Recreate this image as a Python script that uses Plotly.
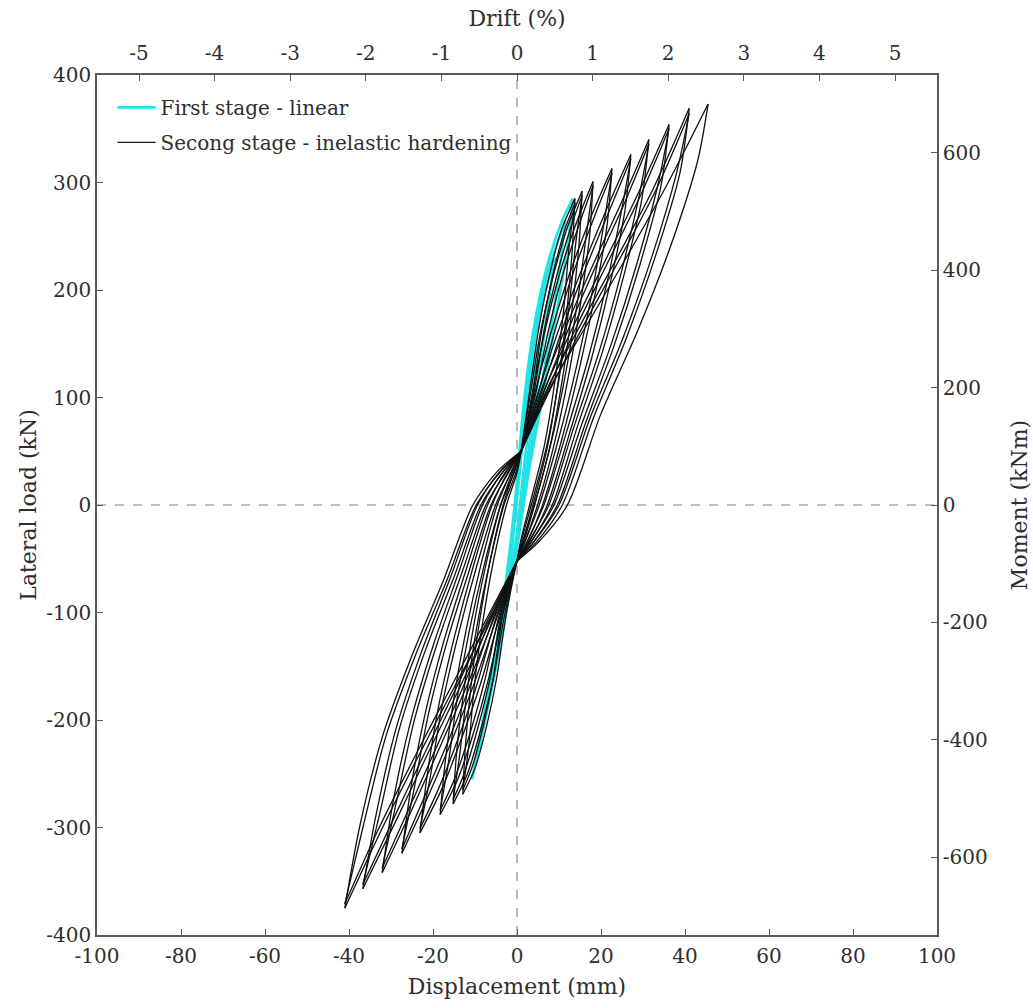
import plotly.graph_objects as go

# ---------------- data ----------------
# pinch points through which all inelastic loops pass (mm, kN)
upper_pinch = [1.0, 50]
lower_pinch = [0.0, -52]

# ---- second stage, first cycle at each amplitude ----
pos_peak_d = [13.8, 15.5, 18.1, 22.6, 27.1, 31.4, 36.2, 41.0, 45.5]
pos_peak_f = [285, 292, 301, 313, 326, 340, 354, 369, 373]
neg_peak_d = [-12.9, -15.2, -18.3, -23.1, -27.4, -32.1, -36.7, -41.0]
neg_peak_f = [-269, -278, -288, -305, -324, -342, -357, -375]

# positive half: branch from upper pinch up to the peak
pos_rise_d = [[2.8, 5.0, 7.5, 10.5], [3.1, 5.6, 8.5, 11.9], [3.5, 6.6, 10.0, 14.0],
              [4.2, 8.3, 12.6, 17.6], [5.0, 10.0, 15.3, 21.2], [5.7, 11.7, 17.8, 24.7],
              [6.5, 13.5, 20.6, 28.5], [7.3, 15.3, 23.4, 32.4], [8.0, 17.0, 26.0, 36.0]]
pos_rise_f = [[100, 160, 210, 255], [101, 161, 211, 257], [101, 161, 213, 261],
              [103, 163, 216, 268], [104, 164, 218, 274], [106, 166, 221, 280],
              [107, 167, 224, 287], [109, 169, 227, 294], [110, 170, 230, 300]]
# positive half: branch from the peak down to lower pinch
pos_fall_d = [[13.2, 12.0, 10.0, 7.3, 3.8, 1.5], [14.8, 13.3, 11.0, 8.0, 4.2, 1.7],
              [17.3, 15.3, 12.5, 9.0, 4.9, 2.0], [21.5, 18.8, 15.1, 10.8, 6.1, 2.5],
              [25.7, 22.3, 17.8, 12.6, 7.2, 3.0], [29.7, 25.6, 20.3, 14.3, 8.4, 3.4],
              [34.3, 29.3, 23.1, 16.3, 9.6, 4.0], [38.8, 33.0, 25.9, 18.2, 10.8, 4.5],
              [43.0, 36.5, 28.5, 20.0, 12.0, 5.0]]
pos_fall_f = [[240, 185, 120, 55, 0, -33], [244, 188, 122, 57, 0, -33],
              [251, 192, 125, 59, 0, -33], [262, 200, 131, 63, 0, -34],
              [274, 208, 137, 68, 0, -34], [284, 216, 142, 72, 0, -34],
              [297, 224, 148, 76, 0, -34], [309, 232, 154, 81, 0, -35],
              [320, 240, 160, 85, 0, -35]]
# negative half: branch from lower pinch down to the peak
neg_drop_d = [[-2.5, -4.8, -7.2, -10.0], [-2.9, -5.6, -8.5, -11.8], [-3.4, -6.8, -10.2, -14.2],
              [-4.1, -8.5, -12.9, -18.0], [-4.8, -10.1, -15.4, -21.4], [-5.6, -11.8, -18.0, -25.0],
              [-6.3, -13.4, -20.6, -28.6], [-7.0, -15.0, -23.0, -32.0]]
neg_drop_f = [[-100, -160, -205, -245], [-101, -161, -207, -250], [-102, -162, -210, -256],
              [-104, -164, -214, -265], [-105, -165, -218, -273], [-107, -167, -222, -283],
              [-108, -168, -226, -292], [-110, -170, -230, -300]]
# negative half: branch from the peak back up to upper pinch
neg_rise_d = [[-12.3, -11.0, -9.0, -6.3, -3.3, -0.8], [-14.4, -12.7, -10.3, -7.2, -3.9, -1.1],
              [-17.1, -15.0, -12.1, -8.5, -4.7, -1.5], [-21.4, -18.6, -14.8, -10.4, -5.9, -2.1],
              [-25.3, -21.8, -17.3, -12.1, -7.0, -2.7], [-29.5, -25.3, -19.9, -14.0, -8.2, -3.3],
              [-33.6, -28.8, -22.6, -15.8, -9.4, -3.9], [-37.5, -32.0, -25.0, -17.5, -10.5, -4.5]]
neg_rise_f = [[-225, -170, -110, -50, 0, 30], [-231, -174, -112, -52, 0, 30],
              [-239, -179, -116, -54, 0, 30], [-252, -186, -121, -57, 0, 31],
              [-264, -193, -125, -60, 0, 31], [-276, -201, -130, -64, 0, 31],
              [-289, -208, -135, -67, 0, 32], [-300, -215, -140, -70, 0, 32]]

# ---- second stage, repeated cycle at each amplitude ----
rep_pos_peak_d = [13.8, 15.5, 18.1, 22.6, 27.1, 31.4, 36.2, 41.0]
rep_pos_peak_f = [281, 288, 297, 309, 322, 336, 350, 364]
rep_neg_peak_d = [-12.9, -15.2, -18.3, -23.1, -27.4, -32.1, -36.7, -41.0]
rep_neg_peak_f = [-265, -274, -284, -301, -320, -338, -353, -371]
rep_pos_rise_d = [[3.6, 5.8, 8.3, 11.3], [3.9, 6.4, 9.3, 12.7], [4.3, 7.4, 10.8, 14.8],
                  [5.0, 9.1, 13.4, 18.4], [5.8, 10.8, 16.1, 22.0], [6.5, 12.5, 18.6, 25.5],
                  [7.3, 14.3, 21.4, 29.3], [8.1, 16.1, 24.2, 33.2]]
rep_pos_fall_d = [[12.4, 11.2, 9.2, 6.5, 3.0, 0.9], [14.0, 12.5, 10.2, 7.2, 3.4, 1.1],
                  [16.5, 14.5, 11.7, 8.2, 4.1, 1.4], [20.7, 18.0, 14.3, 10.0, 5.3, 1.9],
                  [24.9, 21.5, 17.0, 11.8, 6.4, 2.4], [28.9, 24.8, 19.5, 13.5, 7.6, 2.8],
                  [33.5, 28.5, 22.3, 15.5, 8.8, 3.4], [38.0, 32.2, 25.1, 17.4, 10.0, 3.9]]
rep_neg_drop_d = [[-3.3, -5.6, -8.0, -10.8], [-3.7, -6.4, -9.3, -12.6], [-4.2, -7.6, -11.0, -15.0],
                  [-4.9, -9.3, -13.7, -18.8], [-5.6, -10.9, -16.2, -22.2], [-6.4, -12.6, -18.8, -25.8],
                  [-7.1, -14.2, -21.4, -29.4], [-7.8, -15.8, -23.8, -32.8]]
rep_neg_rise_d = [[-11.5, -10.2, -8.2, -5.5, -2.5, 0.0], [-13.6, -11.9, -9.5, -6.4, -3.1, -0.3],
                  [-16.3, -14.2, -11.3, -7.7, -3.9, -0.7], [-20.6, -17.8, -14.0, -9.6, -5.1, -1.3],
                  [-24.5, -21.0, -16.5, -11.3, -6.2, -1.9], [-28.7, -24.5, -19.1, -13.2, -7.4, -2.5],
                  [-32.8, -28.0, -21.8, -15.0, -8.6, -3.1], [-36.7, -31.2, -24.2, -16.7, -9.7, -3.7]]

# ---- first stage (linear) cycles: branch towards positive peak and back ----
lin_up_d = [[-4.0, -1.8, 0.0, 2.2, 5.0],
            [-7.5, -5.0, -2.3, 0.0, 2.5, 5.5, 9.0],
            [-9.5, -7.2, -4.3, -1.5, 0.5, 3.0, 6.5, 11.5],
            [-10.7, -8.8, -5.8, -2.8, -0.3, 1.5, 3.8, 7.0, 10.8, 13.3]]
lin_up_f = [[-120, -60, 5, 90, 150],
            [-195, -140, -70, 10, 105, 180, 230],
            [-235, -185, -120, -45, 40, 130, 205, 265],
            [-255, -215, -150, -75, 10, 90, 160, 220, 265, 285]]
lin_down_d = [[5.0, 3.5, 1.5, 0.0, -4.0],
              [9.0, 7.0, 4.5, 2.0, 0.0, -3.0, -7.5],
              [11.5, 10.0, 7.3, 4.5, 1.8, -0.5, -4.0, -9.5],
              [13.3, 12.0, 9.5, 6.5, 3.0, 0.0, -3.0, -6.5, -10.7]]
lin_down_f = [[150, 95, 30, -25, -120],
              [230, 175, 100, 30, -35, -100, -195],
              [265, 215, 145, 80, 15, -50, -125, -235],
              [285, 240, 180, 110, 35, -40, -110, -180, -255]]

# ---- axes ----
disp_ticks = [-100, -80, -60, -40, -20, 0, 20, 40, 60, 80, 100]
disp_labels = ["-100", "-80", "-60", "-40", "-20", "0", "20", "40", "60", "80", "100"]
load_ticks = [-400, -300, -200, -100, 0, 100, 200, 300, 400]
load_labels = ["-400", "-300", "-200", "-100", "0", "100", "200", "300", "400"]
drift_ticks = [-5, -4, -3, -2, -1, 0, 1, 2, 3, 4, 5]
drift_labels = ["-5", "-4", "-3", "-2", "-1", "0", "1", "2", "3", "4", "5"]
moment_ticks = [-600, -400, -200, 0, 200, 400, 600]
moment_labels = ["-600", "-400", "-200", "0", "200", "400", "600"]
lever_arm = 1.83        # m  (moment = load * lever arm)
drift_height = 18.0     # mm of displacement per 1 % drift

# ---------------- build traces ----------------
bx, by = [], []


def add_cycle(pk_d, pk_f, rise_d, rise_f, fall_d, fall_f,
              npk_d=None, npk_f=None, drop_d=None, drop_f=None, nrise_d=None, nrise_f=None):
    global bx, by
    bx += [upper_pinch[0]] + rise_d + [pk_d, None]
    by += [upper_pinch[1]] + rise_f + [pk_f, None]
    bx += [pk_d] + fall_d + [lower_pinch[0], None]
    by += [pk_f] + fall_f + [lower_pinch[1], None]
    if npk_d is not None:
        bx += [lower_pinch[0]] + drop_d + [npk_d, None]
        by += [lower_pinch[1]] + drop_f + [npk_f, None]
        bx += [npk_d] + nrise_d + [upper_pinch[0], None]
        by += [npk_f] + nrise_f + [upper_pinch[1], None]


for i in range(len(pos_peak_d)):
    if i < len(neg_peak_d):
        add_cycle(pos_peak_d[i], pos_peak_f[i], pos_rise_d[i], pos_rise_f[i],
                  pos_fall_d[i], pos_fall_f[i],
                  neg_peak_d[i], neg_peak_f[i], neg_drop_d[i], neg_drop_f[i],
                  neg_rise_d[i], neg_rise_f[i])
        add_cycle(rep_pos_peak_d[i], rep_pos_peak_f[i], rep_pos_rise_d[i], pos_rise_f[i],
                  rep_pos_fall_d[i], pos_fall_f[i],
                  rep_neg_peak_d[i], rep_neg_peak_f[i], rep_neg_drop_d[i], neg_drop_f[i],
                  rep_neg_rise_d[i], neg_rise_f[i])
    else:
        add_cycle(pos_peak_d[i], pos_peak_f[i], pos_rise_d[i], pos_rise_f[i],
                  pos_fall_d[i], pos_fall_f[i])

cx, cy = [], []
for i in range(len(lin_up_d)):
    cx += lin_up_d[i] + [None] + lin_down_d[i] + [None]
    cy += lin_up_f[i] + [None] + lin_down_f[i] + [None]

fig = go.Figure()
fig.add_trace(go.Scatter(x=cx, y=cy, mode="lines", name="First stage - linear",
                         line=dict(color="#22e3e6", width=2.6, shape="spline", smoothing=0.8),
                         connectgaps=False, legendgroup="a"))
fig.add_trace(go.Scatter(x=bx, y=by, mode="lines", name="Secong stage - inelastic hardening",
                         line=dict(color="#111111", width=1.3, shape="spline", smoothing=0.8),
                         connectgaps=False, legendgroup="b"))
# secondary axes (drift on top, moment on the right)
fig.add_trace(go.Scatter(x=[], y=[], xaxis="x2", yaxis="y2", showlegend=False, hoverinfo="skip"))

axcol = "#5a5a5a"
txtcol = "#2e2e2e"
common = dict(showgrid=False, zeroline=False, showline=True, linecolor=axcol, linewidth=1.6,
              ticks="inside", ticklen=6, tickwidth=1.4, tickcolor=axcol,
              tickfont=dict(family="DejaVu Serif", size=20, color=txtcol), tickmode="array")

fig.update_layout(
    width=1033, height=1008,
    margin=dict(l=97, r=96, t=75, b=73, autoexpand=False),
    paper_bgcolor="white", plot_bgcolor="white",
    font=dict(family="DejaVu Serif", size=20, color=txtcol),
    xaxis=dict(range=[-100, 100], tickvals=disp_ticks, ticktext=disp_labels,
               ticklabelstandoff=2,
               title=dict(text="Displacement (mm)", font=dict(size=22, color=txtcol), standoff=12),
               **common),
    xaxis2=dict(range=[-100 / drift_height, 100 / drift_height], overlaying="x", side="top",
                tickvals=drift_ticks, ticktext=drift_labels, ticklabelstandoff=5,
                title=dict(text="Drift (%)", font=dict(size=22, color=txtcol), standoff=9),
                **common),
    yaxis=dict(range=[-400, 400], tickvals=load_ticks, ticktext=load_labels,
               title=dict(text="Lateral load (kN)", font=dict(size=22, color=txtcol), standoff=4),
               **common),
    yaxis2=dict(range=[-400 * lever_arm, 400 * lever_arm], overlaying="y", side="right",
                tickvals=moment_ticks, ticktext=moment_labels,
                title=dict(text="Moment (kNm)", font=dict(size=22, color=txtcol), standoff=25),
                **common),
    legend=dict(x=0.0185, y=0.985, xanchor="left", yanchor="top", bgcolor="rgba(0,0,0,0)",
                font=dict(family="DejaVu Serif", size=20, color=txtcol),
                itemwidth=38, tracegroupgap=6),
    shapes=[
        dict(type="line", xref="x", yref="paper", x0=0, x1=0, y0=0, y1=1,
             line=dict(color="#aaaaaa", width=1.6, dash="dash"), layer="below"),
        dict(type="line", xref="paper", yref="y", x0=0, x1=1, y0=0, y1=0,
             line=dict(color="#aaaaaa", width=1.6, dash="dash"), layer="below"),
    ],
)

fig.write_html("out.html")
